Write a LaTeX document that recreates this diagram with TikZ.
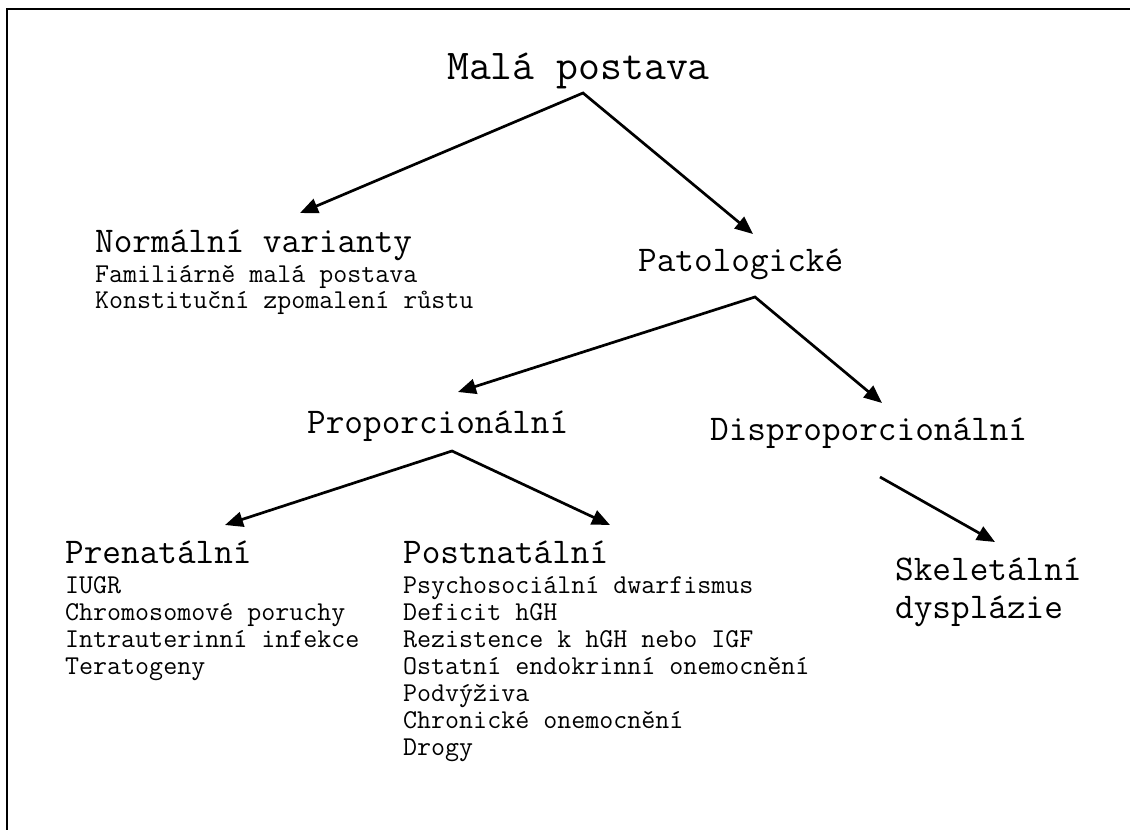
\documentclass[tikz,border=0pt]{standalone}
\usepackage{fontspec}
\usetikzlibrary{arrows.meta}
\newcommand{\lline}[1]{\hbox{#1}}
\newcommand{\stk}[2]{\vtop{\baselineskip=#1\relax\lineskiplimit=-1000pt\relax\lineskip=0pt\relax #2}}
\begin{document}
\begin{tikzpicture}[x=1pt,y=-1pt,
  conn/.style={line width=2.7pt,line join=miter,{Triangle[length=18pt,width=15pt]}-{Triangle[length=18pt,width=15pt]}},
  conn1/.style={line width=2.7pt,-{Triangle[length=18pt,width=15pt]}},
  txt/.style={inner sep=0pt,anchor=base west},
  lst/.style={inner sep=0pt,anchor=base west,font=\ttfamily\fontsize{27.2}{27}\selectfont},
  hd/.style={txt,font=\ttfamily\fontsize{36.2}{38}\selectfont}]
\useasboundingbox (0,0) rectangle (1130,830);
% frame
\draw[line width=2.5pt,line join=miter] (7,835) -- (7,9) -- (1135,9);
% texts
\node[txt,font=\ttfamily\fontsize{42.5}{44}\selectfont] (mala) at (447,79) {Malá postava};
\node[hd] (normal) at (95,252) {Normální varianty};
\node[lst] (normlist) at (95,282) {\stk{26pt}{\lline{Familiárně malá postava}\lline{Konstituční zpomalení růstu}}};
\node[hd] (pato) at (638,271) {Patologické};
\node[hd] (prop) at (307,433) {Proporcionální};
\node[hd] (disp) at (710,440) {Disproporcionální};
\node[hd] (pre) at (65,563) {Prenatální};
\node[hd] (post) at (403,563) {Postnatální};
\node[lst] (prelist) at (65,593) {\stk{27pt}{\lline{IUGR}\lline{Chromosomové poruchy}\lline{Intrauterinní infekce}\lline{Teratogeny}}};
\node[lst] (postlist) at (403,593) {\stk{27pt}{\lline{Psychosociální dwarfismus}\lline{Deficit hGH}\lline{Rezistence k hGH nebo IGF}\lline{Ostatní endokrinní onemocnění}\lline{Podvýživa}\lline{Chronické onemocnění}\lline{Drogy}}};
\node[hd] (skel) at (895,580) {\stk{38pt}{\lline{Skeletální}\lline{dysplázie}}};
% connector points
\coordinate (a1) at (583,93);
\coordinate (t1L) at (300,213);
\coordinate (t1R) at (753,234);
\coordinate (a2) at (755,297);
\coordinate (t2L) at (458,392);
\coordinate (t2R) at (882,403);
\coordinate (a3) at (452,451);
\coordinate (t3L) at (225,525);
\coordinate (t3R) at (610,525);
\coordinate (s4) at (880,477);
\coordinate (t4) at (995,542);
\draw[conn] (t1L) -- (a1) -- (t1R);
\draw[conn] (t2L) -- (a2) -- (t2R);
\draw[conn] (t3L) -- (a3) -- (t3R);
\draw[conn1] (s4) -- (t4);
\end{tikzpicture}
\end{document}
